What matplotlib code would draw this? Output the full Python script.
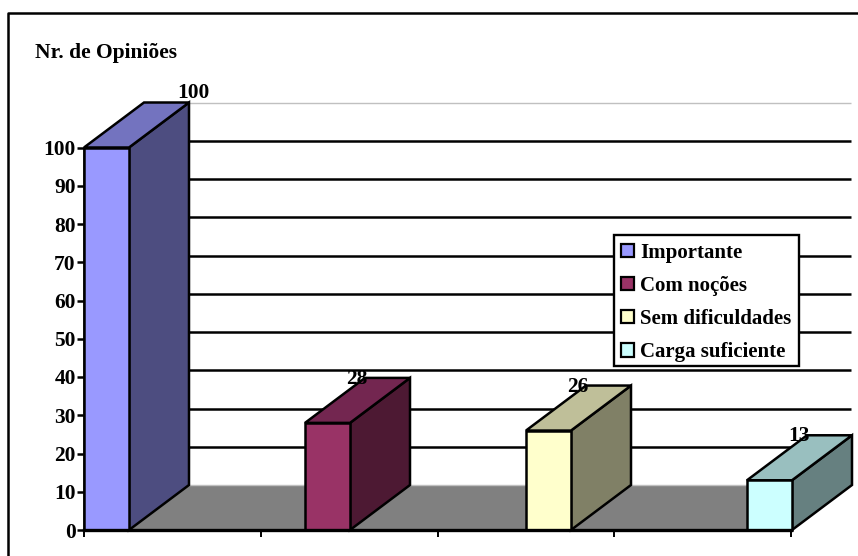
import matplotlib
matplotlib.use("Agg")
import matplotlib.pyplot as plt
from matplotlib.lines import Line2D
from matplotlib.patches import Patch, Polygon, Rectangle

categories = ["Importante", "Com noções", "Sem dificuldades", "Carga suficiente"]
values = [100, 28, 26, 13]
front_colors = ["#9999FF", "#993366", "#FFFFCC", "#CCFFFF"]
top_colors = ["#7373BF", "#732650", "#BFBF99", "#99BFBF"]
side_colors = ["#4D4D80", "#4D1933", "#808066", "#668080"]
y_ticks = list(range(0, 101, 10))
x_ticks = [0, 1, 2, 3, 4]

W, H = 858, 556
LEFT, RIGHT, BOTTOM, TOP = 84, 851, 530, 102
CAT_PX = (791 - 84) / 4
VAL_PX = (530 - 147.5) / 100
BAR_W = 45 / CAT_PX
BAR_STEP = 221 / CAT_PX
DX = 60 / CAT_PX
DY = 45 / VAL_PX
EDGE = 1.8

plt.rcParams["font.family"] = ["Liberation Serif"]
plt.rcParams["font.weight"] = "bold"

fig = plt.figure(figsize=(W / 100, H / 100), dpi=100, facecolor="white")
ax = fig.add_axes([LEFT / W, 1 - BOTTOM / H, (RIGHT - LEFT) / W, (BOTTOM - TOP) / H])
ax.set_xlim(0, (RIGHT - LEFT) / CAT_PX)
ax.set_ylim(0, (BOTTOM - TOP) / VAL_PX)
ax.patch.set_visible(False)

# Chart frame, open at the right and bottom edges
fig.add_artist(Line2D([8 / W, 8 / W, 1], [0, 1 - 12.5 / H, 1 - 12.5 / H],
                      color="black", lw=1.8, transform=fig.transFigure))

# Floor
ax.add_patch(Polygon([(0, 0), (DX, DY), (4 + DX, DY), (4, 0)], closed=True,
                     facecolor="#808080", edgecolor="none", zorder=1))

# Back wall gridlines
for v in y_ticks:
    is_edge = v in (0, 100)
    ax.plot([DX, 4 + DX], [v + DY, v + DY], clip_on=False, zorder=2,
            color="#C0C0C0" if is_edge else "black", lw=1.0 if is_edge else 1.8,
            solid_capstyle="butt")

# Axis lines and ticks
ax.spines[["top", "right"]].set_visible(False)
ax.spines["left"].set_bounds(0, 100)
ax.spines["bottom"].set_bounds(0, 4)
ax.spines["left"].set_linewidth(EDGE)
ax.spines["bottom"].set_linewidth(2.4)
ax.spines["bottom"].set_zorder(6)
ax.set_yticks(y_ticks)
ax.set_xticks(x_ticks)
ax.set_xticklabels([])
ax.tick_params(axis="y", length=5, width=1.8, pad=1, labelsize=15.4)
ax.tick_params(axis="x", length=5, width=1.4)

# Bars as extruded boxes; the tallest label sits above the box, the others overlap its top
for i, (val, front, top, side) in enumerate(zip(values, front_colors, top_colors, side_colors)):
    x0 = i * BAR_STEP
    x1 = x0 + BAR_W
    style = dict(closed=True, edgecolor="black", lw=EDGE, joinstyle="miter", zorder=3, clip_on=False)
    ax.add_patch(Polygon([(x1, 0), (x1 + DX, DY), (x1 + DX, val + DY), (x1, val)], facecolor=side, **style))
    ax.add_patch(Polygon([(x0, val), (x1, val), (x1 + DX, val + DY), (x0 + DX, val + DY)], facecolor=top, **style))
    ax.add_patch(Polygon([(x0, 0), (x1, 0), (x1, val), (x0, val)], facecolor=front, **style))
    if i == 0:
        anchor, offset = (x1 + DX, val + DY), (4, 4)
    else:
        anchor, offset = (x1, val + DY), (7, -6)
    ax.annotate(str(val), anchor, xytext=offset, textcoords="offset pixels",
                ha="center", va="baseline", fontsize=15.4, zorder=7, annotation_clip=False)

fig.text(35 / W, 1 - 58 / H, "Nr. de Opiniões", fontsize=15.5, ha="left", va="baseline")

# Legend box drawn separately so the rows can be placed freely inside it
fig.add_artist(Rectangle((614 / W, 1 - 366 / H), 185 / W, 131 / H, transform=fig.transFigure,
                         facecolor="white", edgecolor="black", lw=1.7, zorder=9))
handles = [Patch(facecolor=c, edgecolor="black", lw=1.6) for c in front_colors]
leg = fig.legend(handles, categories, loc="lower left",
                 bbox_to_anchor=(614 / W, 1 - 369 / H), bbox_transform=fig.transFigure,
                 fontsize=15, frameon=False,
                 borderaxespad=0, handlelength=0.62, handleheight=0.62, handletextpad=0.3,
                 labelspacing=0.63, borderpad=0.33)
leg.set_zorder(10)

fig.savefig("out.png", dpi=100)
